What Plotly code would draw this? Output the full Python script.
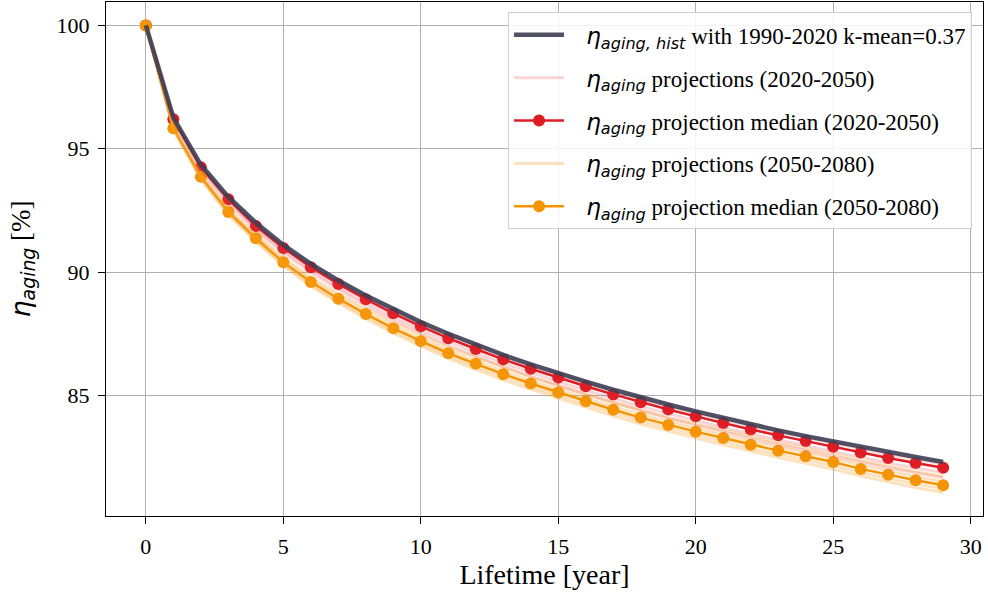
import plotly.graph_objects as go

lifetime = list(range(30))

hist = [100, 96.26, 94.35, 93.05, 92.0, 91.1, 90.33, 89.66, 89.05, 88.49, 87.97, 87.5, 87.05, 86.64, 86.26,
        85.9, 85.56, 85.23, 84.92, 84.63, 84.35, 84.08, 83.82, 83.58, 83.35, 83.13, 82.91, 82.7, 82.5, 82.3]

median_2020_2050 = [100, 96.2, 94.25, 92.95, 91.87, 90.98, 90.2, 89.52, 88.9, 88.33, 87.8, 87.32, 86.88, 86.46, 86.08,
                    85.72, 85.37, 85.04, 84.72, 84.43, 84.15, 83.88, 83.62, 83.38, 83.15, 82.92, 82.68, 82.46, 82.26, 82.07]

median_2050_2080 = [100, 95.83, 93.86, 92.44, 91.37, 90.4, 89.6, 88.92, 88.3, 87.72, 87.2, 86.71, 86.28, 85.86, 85.48,
                    85.12, 84.76, 84.42, 84.1, 83.8, 83.53, 83.27, 83.0, 82.76, 82.53, 82.3, 82.02, 81.78, 81.56, 81.36]

proj_2020_2050 = [
    [100, 96.23, 94.30, 93.01, 91.94, 91.06, 90.28, 89.61, 88.99, 88.43, 87.90, 87.43, 86.99, 86.57, 86.20,
     85.84, 85.49, 85.16, 84.85, 84.56, 84.28, 84.01, 83.76, 83.52, 83.29, 83.06, 82.83, 82.61, 82.41, 82.22],
    [100, 96.16, 94.19, 92.87, 91.78, 90.88, 90.09, 89.40, 88.78, 88.20, 87.66, 87.18, 86.73, 86.31, 85.92,
     85.56, 85.21, 84.87, 84.55, 84.26, 83.97, 83.70, 83.44, 83.19, 82.96, 82.73, 82.49, 82.26, 82.06, 81.87],
    [100, 96.12, 94.12, 92.79, 91.69, 90.78, 89.98, 89.29, 88.65, 88.07, 87.53, 87.04, 86.59, 86.16, 85.77,
     85.40, 85.04, 84.71, 84.38, 84.08, 83.80, 83.52, 83.26, 83.01, 82.77, 82.54, 82.29, 82.07, 81.86, 81.67],
]

proj_2050_2080 = [
    [100, 95.90, 93.97, 92.58, 91.53, 90.58, 89.79, 89.12, 88.52, 87.95, 87.44, 86.96, 86.54, 86.13, 85.75,
     85.40, 85.05, 84.71, 84.40, 84.10, 83.84, 83.59, 83.32, 83.09, 82.86, 82.63, 82.36, 82.12, 81.91, 81.71],
    [100, 95.86, 93.91, 92.50, 91.44, 90.48, 89.68, 89.01, 88.39, 87.82, 87.30, 86.82, 86.39, 85.97, 85.60,
     85.24, 84.88, 84.54, 84.23, 83.93, 83.66, 83.40, 83.14, 82.90, 82.67, 82.44, 82.17, 81.93, 81.71, 81.51],
    [100, 95.80, 93.81, 92.38, 91.30, 90.32, 89.52, 88.83, 88.21, 87.62, 87.10, 86.60, 86.17, 85.75, 85.36,
     85.00, 84.64, 84.30, 83.97, 83.67, 83.40, 83.14, 82.86, 82.62, 82.39, 82.16, 81.87, 81.63, 81.41, 81.21],
    [100, 95.77, 93.76, 92.32, 91.23, 90.25, 89.43, 88.75, 88.11, 87.52, 87.00, 86.50, 86.06, 85.63, 85.25,
     84.88, 84.51, 84.17, 83.84, 83.54, 83.27, 83.00, 82.73, 82.48, 82.25, 82.01, 81.73, 81.49, 81.26, 81.06],
]

x_ticks = [0, 5, 10, 15, 20, 25, 30]
y_ticks = [85, 90, 95, 100]

ETA = '<span style="font-family:DejaVu Sans"><i>η</i></span>'
def eta(sub):
    return ETA + '<sub><span style="font-family:DejaVu Sans"><i>' + sub + '</i></span></sub>'

PAD = "&nbsp;&nbsp;&nbsp;"
RED = "rgb(222,28,36)"
ORANGE = "rgb(245,148,0)"

fig = go.Figure()

fig.add_trace(go.Scatter(
    x=lifetime, y=median_2020_2050, mode="lines+markers",
    line=dict(color=RED, width=2.5), marker=dict(color=RED, size=12),
    name=PAD + eta("aging") + " projection median (2020-2050)",
    legendgroup="g3", legendrank=3,
))
fig.add_trace(go.Scatter(
    x=lifetime, y=median_2050_2080, mode="lines+markers",
    line=dict(color=ORANGE, width=2.5), marker=dict(color=ORANGE, size=12),
    name=PAD + eta("aging") + " projection median (2050-2080)",
    legendgroup="g5", legendrank=5,
))
for i, ys in enumerate(proj_2020_2050):
    fig.add_trace(go.Scatter(
        x=lifetime, y=ys, mode="lines",
        line=dict(color="rgba(232,60,70,0.22)", width=3),
        name=PAD + eta("aging") + " projections (2020-2050)",
        legendgroup="g2", showlegend=(i == 0), legendrank=2,
    ))
for i, ys in enumerate(proj_2050_2080):
    fig.add_trace(go.Scatter(
        x=lifetime, y=ys, mode="lines",
        line=dict(color="rgba(245,160,40,0.3)", width=3),
        name=PAD + eta("aging") + " projections (2050-2080)",
        legendgroup="g4", showlegend=(i == 0), legendrank=4,
    ))
fig.add_trace(go.Scatter(
    x=lifetime, y=hist, mode="lines",
    line=dict(color="rgba(62,62,84,0.9)", width=4.5),
    name=PAD + eta("aging, hist") + " with 1990-2020 k-mean=0.37",
    legendgroup="g1", legendrank=1,
))

axis_common = dict(
    showline=True, mirror=True, linecolor="black", linewidth=1,
    ticks="outside", ticklen=7, tickcolor="black", automargin=False,
    showgrid=True, gridcolor="#b0b0b0", gridwidth=1, zeroline=False,
    tickfont=dict(family="Liberation Serif", size=22, color="black"),
)

fig.update_layout(
    template="none",
    width=988, height=594,
    margin=dict(l=106, r=5, t=2, b=78),
    plot_bgcolor="white", paper_bgcolor="white",
    xaxis=dict(range=[-1.45, 30.45], tickvals=x_ticks, ticklabelstandoff=4,
               title=dict(text="Lifetime [year]", font=dict(family="Liberation Serif", size=28, color="black"), standoff=1),
               **axis_common),
    yaxis=dict(range=[80.11, 100.95], tickvals=y_ticks, ticklabelstandoff=4,
               title=dict(text=ETA + '<sub><span style="font-family:DejaVu Sans"><i>aging</i></span></sub> [%]',
                          font=dict(family="Liberation Serif", size=27, color="black"), standoff=18),
               **axis_common),
    legend=dict(
        x=0.9875, y=0.98, xanchor="right", yanchor="top",
        bgcolor="rgba(255,255,255,0.85)", bordercolor="#d0d0d0", borderwidth=1,
        font=dict(family="Liberation Serif", size=23, color="black"),
        traceorder="grouped", tracegroupgap=10, itemwidth=50,
    ),
)

fig.write_html("out.html")
